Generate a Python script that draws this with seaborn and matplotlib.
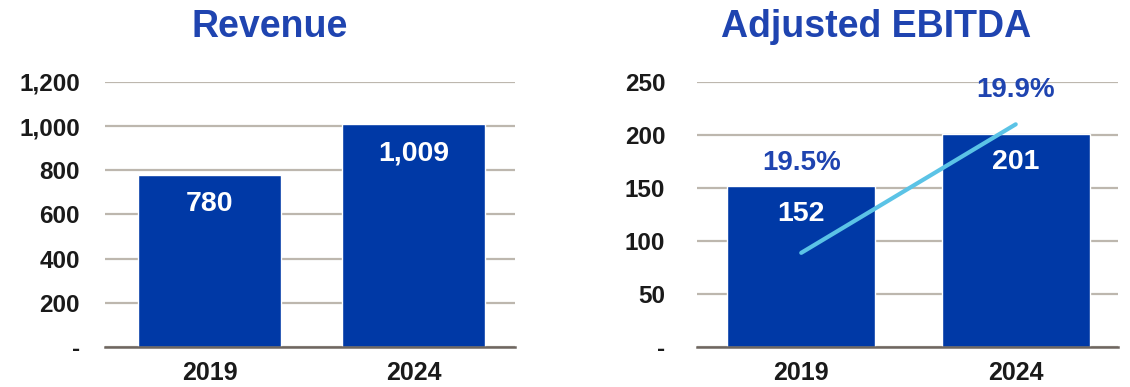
import numpy as np
import pandas as pd
import matplotlib
matplotlib.use("Agg")
import matplotlib.pyplot as plt
import seaborn as sns

# data
years = ["2019", "2024"]
revenue = [780, 1009]
ebitda = [152, 201]
margin = [19.5, 19.9]
margin_labels = ["19.5%", "19.9%"]

bar_blue = "#0039A6"
title_blue = "#1F44B0"
line_blue = "#5BC3E6"
grid_gray = "#BDB7AE"

sns.set_style("white")
plt.rcParams['font.family'] = ['Liberation Sans', 'DejaVu Sans']
plt.rcParams['font.weight'] = 'bold'

fig = plt.figure(figsize=(11.3, 3.87), dpi=100)
ax1 = fig.add_axes([0.093, 0.1034, 0.363, 0.685])
ax2 = fig.add_axes([0.617, 0.1034, 0.3726, 0.685])


def fmt_tick(v):
    return "-" if v == 0 else f"{int(v):,}"


def style_axis(ax, ticks, ylim, xlim, ypad):
    ax.set_ylim(*ylim)
    ax.set_xlim(*xlim)
    ax.set_yticks(ticks)
    ax.set_yticklabels([fmt_tick(t) for t in ticks])
    ax.yaxis.grid(True, color=grid_gray, linewidth=1.6)
    ax.set_axisbelow(True)
    for s in ["top", "right", "left"]:
        ax.spines[s].set_visible(False)
    ax.spines["bottom"].set_color("#6E6660")
    ax.spines["bottom"].set_linewidth(1.8)
    ax.tick_params(axis="both", length=0, colors="#1A1A1A")
    ax.tick_params(axis="y", pad=ypad, labelsize=17.5)
    ax.tick_params(axis="x", pad=10, labelsize=18)
    for lab in ax.get_xticklabels() + ax.get_yticklabels():
        lab.set_fontweight("bold")
    ax.set_xlabel("")
    ax.set_ylabel("")


# revenue
df_rev = pd.DataFrame({"year": years, "value": revenue})
sns.barplot(data=df_rev, x="year", y="value", color=bar_blue, width=0.70,
            saturation=1, ax=ax1)
style_axis(ax1, np.arange(0, 1201, 200), (0, 1200), (-0.513, 1.50), 18)
for i, v in enumerate(revenue):
    ax1.annotate(f"{v:,}", (i, v), xytext=(0, -29), textcoords="offset pixels",
                 ha="center", va="center", color="white", fontsize=20.5,
                 fontweight="bold")

# adjusted ebitda
df_eb = pd.DataFrame({"year": years, "value": ebitda})
sns.barplot(data=df_eb, x="year", y="value", color=bar_blue, width=0.69,
            saturation=1, ax=ax2)
style_axis(ax2, np.arange(0, 251, 50), (0, 250), (-0.485, 1.478), 23)
for i, v in enumerate(ebitda):
    ax2.annotate(f"{v:,}", (i, v), xytext=(0, -28), textcoords="offset pixels",
                 ha="center", va="center", color="white", fontsize=20.5,
                 fontweight="bold")

# margin line on hidden secondary axis
ax3 = ax2.twinx()
ax3.plot([0, 1], margin, color=line_blue, linewidth=3, solid_capstyle="round")
ax3.set_ylim(19.207, 20.032)
ax3.set_xlim(-0.485, 1.478)
ax3.set_yticks([])
for s in ax3.spines.values():
    s.set_visible(False)
for i, (m, lab), off in zip(range(2), zip(margin, margin_labels), [90, 34]):
    ax3.annotate(lab, (i, m), xytext=(0, off), textcoords="offset pixels",
                 ha="center", va="center", color=title_blue, fontsize=20,
                 fontweight="bold")

fig.text(0.239, 0.930, "Revenue", ha="center", va="center", fontsize=27,
         fontweight="bold", color=title_blue)
fig.text(0.775, 0.930, "Adjusted EBITDA", ha="center", va="center", fontsize=27,
         fontweight="bold", color=title_blue)

fig.savefig("out.png", dpi=100)
